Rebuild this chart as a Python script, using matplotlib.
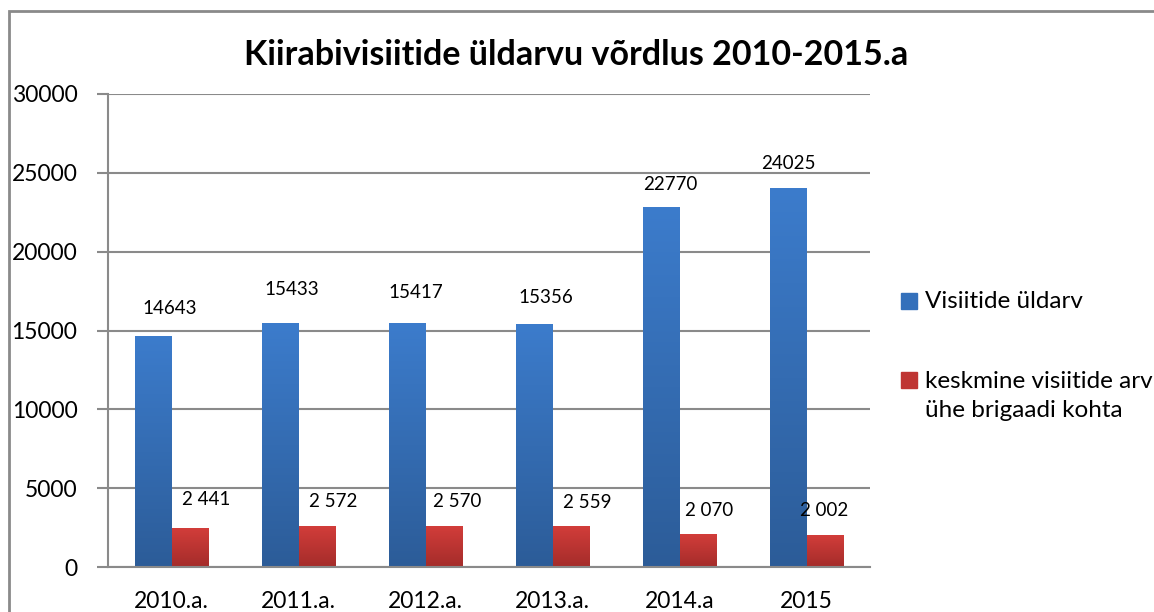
import matplotlib.pyplot as plt
import numpy as np
from matplotlib.patches import Rectangle
from matplotlib.colors import LinearSegmentedColormap

plt.rcParams['font.family'] = ['Lato', 'DejaVu Sans']

categories = ['2010.a.', '2011.a.', '2012.a.', '2013.a.', '2014.a', '2015']
visits_total = [14643, 15433, 15417, 15356, 22770, 24025]
visits_per_brigade = [2441, 2572, 2570, 2559, 2070, 2002]
labels_total = ['14643', '15433', '15417', '15356', '22770', '24025']
labels_brigade = ['2 441', '2 572', '2 570', '2 559', '2 070', '2 002']
series_names = ['Visiitide üldarv', 'keskmine visiitide arv\nühe brigaadi kohta']
title = 'Kiirabivisiitide üldarvu võrdlus 2010-2015.a'

# label offsets in pixels (the labels were nudged by hand in the original)
off_total = [(17, 28), (12, 34), (9, 31), (12, 27), (9, 23), (0, 25)]
off_brigade = [(16, 29), (16, 25), (13, 25), (16, 24), (11, 24), (-1, 25)]

blue_top, blue_bot = '#3c7ccc', '#2c5c98'
red_top, red_bot = '#d23d3a', '#a42c2a'
grid_c = '#8a8a8a'

fig = plt.figure(figsize=(11.54, 6.12), dpi=100)
ax = fig.add_axes([108/1154, 1-567/612, (870-108)/1154, (567-94)/612])

x = np.arange(len(categories))
w = 0.29
b1 = ax.bar(x - w/2, visits_total, w, color=blue_top, zorder=2)
b2 = ax.bar(x + w/2, visits_per_brigade, w, color=red_top, zorder=2)

def gradient(bars, c_top, c_bot):
    cmap = LinearSegmentedColormap.from_list('g', [c_bot, c_top])
    grad = np.linspace(0, 1, 256).reshape(-1, 1)
    for p in bars:
        x0, h, bw = p.get_x(), p.get_height(), p.get_width()
        ax.imshow(grad, extent=[x0, x0 + bw, 0, h], origin='lower',
                  cmap=cmap, aspect='auto', zorder=2.5)

gradient(b1, blue_top, blue_bot)
gradient(b2, red_top, red_bot)

for bars, labs, offs in [(b1, labels_total, off_total), (b2, labels_brigade, off_brigade)]:
    for p, lab, (dx, dy) in zip(bars, labs, offs):
        ax.annotate(lab, (p.get_x() + p.get_width()/2, p.get_height()),
                    xytext=(dx, dy), textcoords='offset pixels',
                    ha='center', va='center', fontsize=13.5, color='black')

ax.set_xlim(-0.5, len(categories) - 0.5)
ax.set_ylim(0, 30000)
ax.set_yticks(np.arange(0, 30001, 5000))
ax.set_xticks(x)
ax.set_xticklabels(categories)
ax.yaxis.grid(True, color=grid_c, linewidth=1.5, zorder=0)
ax.set_axisbelow(True)
for s in ['top', 'right']:
    ax.spines[s].set_visible(False)
for s in ['left', 'bottom']:
    ax.spines[s].set_color(grid_c)
    ax.spines[s].set_linewidth(1.5)
ax.tick_params(axis='y', length=8, width=1.5, color=grid_c, labelsize=16.5, pad=14)
ax.tick_params(axis='x', length=0, labelsize=16.5, pad=17)

# legend, drawn by hand so the marker lines up with the first text line
legend_colors = ['#3470bb', '#bf3533']
legend_y = [301, 380]
for name, c, yy in zip(series_names, legend_colors, legend_y):
    fig.patches.append(Rectangle((901/1154, 1-(yy+8)/612), 16/1154, 16/612,
                                 transform=fig.transFigure, color=c))
    nlines = name.count('\n') + 1
    fig.text(925/1154, 1-(yy + 16*(nlines-1))/612, name, ha='left', va='center',
             fontsize=17.5, linespacing=1.5)

fig.text(576/1154, 1-55/612, title, ha='center', va='center',
         fontsize=24.5, fontweight='bold')

fig.patches.append(Rectangle((9/1154, -0.1), 1.5, 1-11/612+0.1, transform=fig.transFigure,
                             fill=False, edgecolor=grid_c, linewidth=2))

fig.savefig('out.png', dpi=100)
